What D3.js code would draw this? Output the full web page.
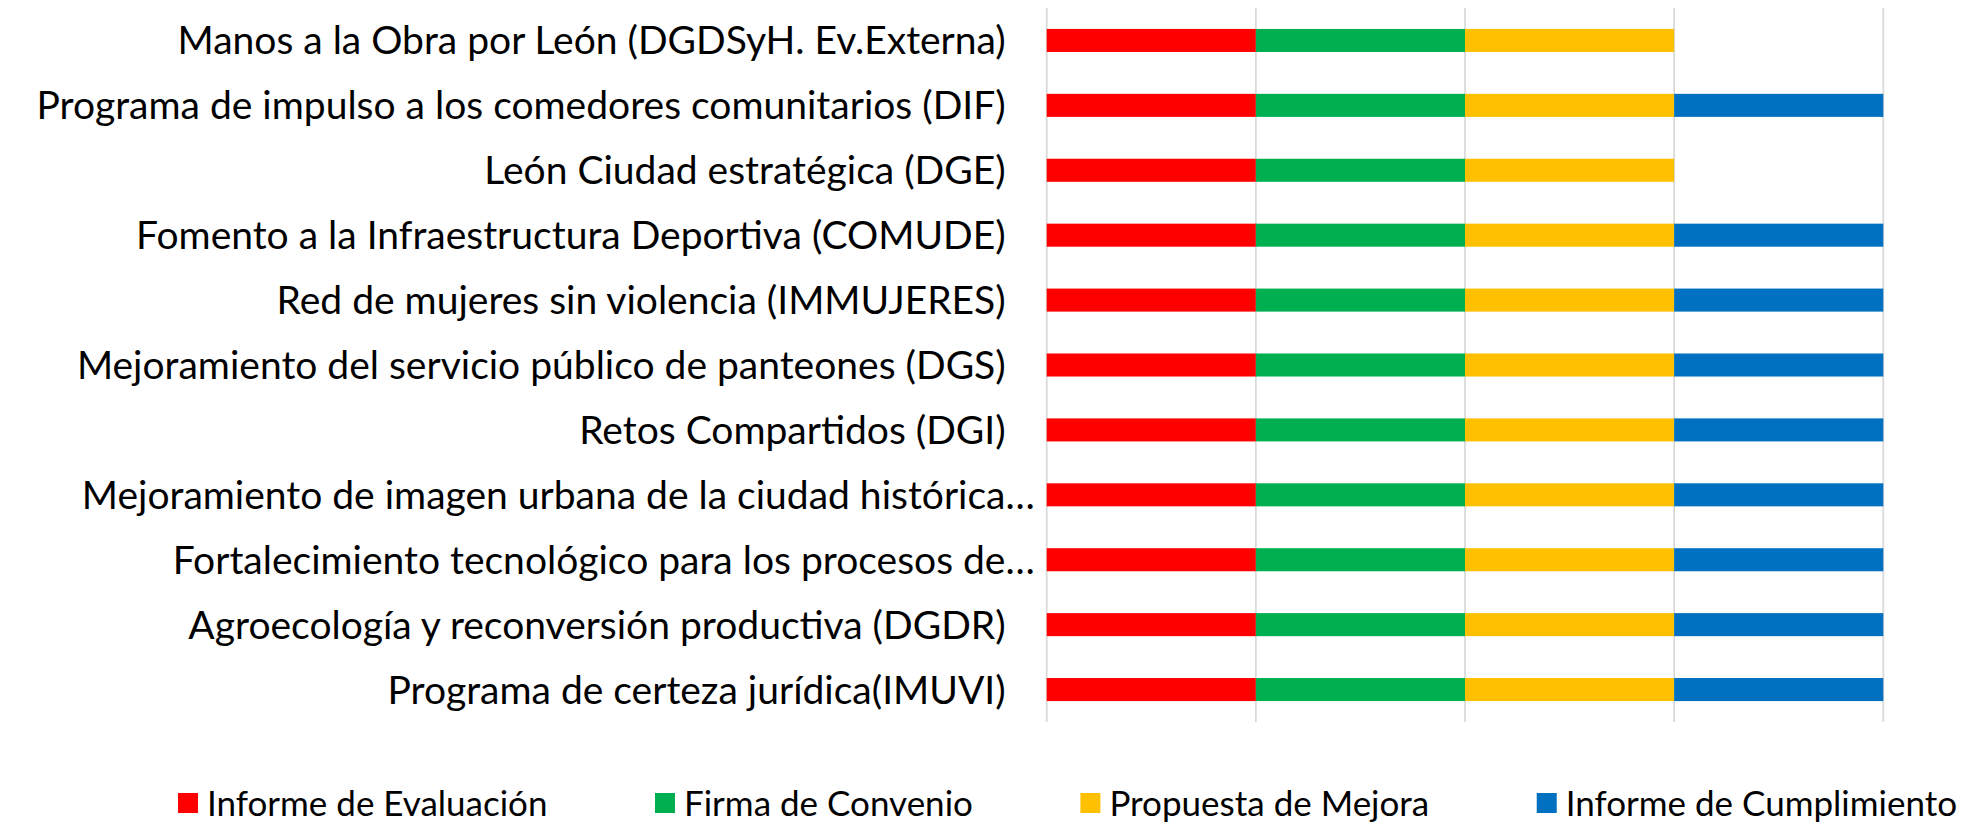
<!DOCTYPE html>
<html>
<head>
<meta charset="utf-8">
<script src="https://cdn.jsdelivr.net/npm/d3@7"></script>
<style>
    body { margin: 0; background: #fff; }
    text { font-family: Lato, "Open Sans", sans-serif; fill: #000; }
</style>
</head>
<body>
<div id="chart"></div>
<script>
// programs, top to bottom as in the reference
var categories = [
    "Manos a la Obra por León (DGDSyH. Ev.Externa)",
    "Programa de impulso a los comedores comunitarios (DIF)",
    "León Ciudad estratégica (DGE)",
    "Fomento a la Infraestructura Deportiva (COMUDE)",
    "Red de mujeres sin violencia (IMMUJERES)",
    "Mejoramiento del servicio público de panteones (DGS)",
    "Retos Compartidos (DGI)",
    "Mejoramiento de imagen urbana de la ciudad histórica…",
    "Fortalecimiento tecnológico para los procesos de…",
    "Agroecología y reconversión productiva (DGDR)",
    "Programa de certeza jurídica(IMUVI)"
];

var seriesNames = ["Informe de Evaluación", "Firma de Convenio", "Propuesta de Mejora", "Informe de Cumplimiento"];
var seriesColors = ["#FF0000", "#00B050", "#FFC000", "#0070C0"];

var informeEvaluacion   = [1, 1, 1, 1, 1, 1, 1, 1, 1, 1, 1];
var firmaConvenio       = [1, 1, 1, 1, 1, 1, 1, 1, 1, 1, 1];
var propuestaMejora     = [1, 1, 1, 1, 1, 1, 1, 1, 1, 1, 1];
var informeCumplimiento = [0, 1, 0, 1, 1, 1, 1, 1, 1, 1, 1];

var xTicks = [0, 1, 2, 3, 4];

var rows = categories.map(function(c, i) {
    var r = { name: c };
    r[seriesNames[0]] = informeEvaluacion[i];
    r[seriesNames[1]] = firmaConvenio[i];
    r[seriesNames[2]] = propuestaMejora[i];
    r[seriesNames[3]] = informeCumplimiento[i];
    return r;
});

var margin = { left: 1046.7, right: 81.7, top: 8, bottom: 100 };
var width = 1965 - margin.left - margin.right,
    height = 822 - margin.top - margin.bottom;

var svg = d3.select("#chart")
    .append("svg")
    .attr("width", 1965)
    .attr("height", 822);

var g = svg.append("g")
    .attr("transform", "translate(" + margin.left + "," + margin.top + ")");

var x = d3.scaleLinear()
    .domain([0, 4])
    .range([0, width]);

var y = d3.scaleBand()
    .domain(categories)
    .range([0, height])
    .paddingInner(0.645)
    .paddingOuter(0.3225);

// vertical gridlines
g.selectAll(".grid")
    .data(xTicks)
    .enter()
    .append("line")
    .attr("class", "grid")
    .attr("x1", function(d) { return x(d); })
    .attr("x2", function(d) { return x(d); })
    .attr("y1", 0)
    .attr("y2", height)
    .attr("stroke", "#d9d9d9")
    .attr("stroke-width", 1.75);

var stacked = d3.stack().keys(seriesNames)(rows);

g.selectAll(".series")
    .data(stacked)
    .enter()
    .append("g")
    .attr("class", "series")
    .attr("fill", function(d, i) { return seriesColors[i]; })
    .selectAll("rect")
    .data(function(d) { return d; })
    .enter()
    .append("rect")
    .attr("x", function(d) { return x(d[0]); })
    .attr("y", function(d) { return y(d.data.name); })
    .attr("width", function(d) { return x(d[1]) - x(d[0]); })
    .attr("height", y.bandwidth());

// category labels (truncated ones sit a bit further right, like Excel)
g.selectAll(".label")
    .data(categories)
    .enter()
    .append("text")
    .attr("class", "label")
    .attr("x", function(d) { return d.slice(-1) === "…" ? -12 : -41; })
    .attr("y", function(d) { return y(d) + y.bandwidth() / 2; })
    .attr("dy", "0.36em")
    .attr("text-anchor", "end")
    .style("font-size", "39px")
    .text(function(d) { return d; });

// legend
var legend = svg.append("g").attr("class", "legend");
var items = legend.selectAll(".item")
    .data(seriesNames)
    .enter()
    .append("g")
    .attr("class", "item");

items.append("rect")
    .attr("width", 20)
    .attr("height", 20)
    .attr("y", -10)
    .attr("fill", function(d, i) { return seriesColors[i]; });

items.append("text")
    .attr("x", 29)
    .attr("dy", "0.36em")
    .style("font-size", "35px")
    .text(function(d) { return d; });

var widths = [];
items.each(function(d) {
    widths.push(29 + d3.select(this).select("text").node().getComputedTextLength());
});
var legStart = 178, legEnd = 1957;
var gap = (legEnd - legStart - d3.sum(widths)) / (widths.length - 1);
var pos = [], acc = legStart;
widths.forEach(function(w) { pos.push(acc); acc += w + gap; });
items.attr("transform", function(d, i) { return "translate(" + pos[i] + ",803)"; });
</script>
</body>
</html>
